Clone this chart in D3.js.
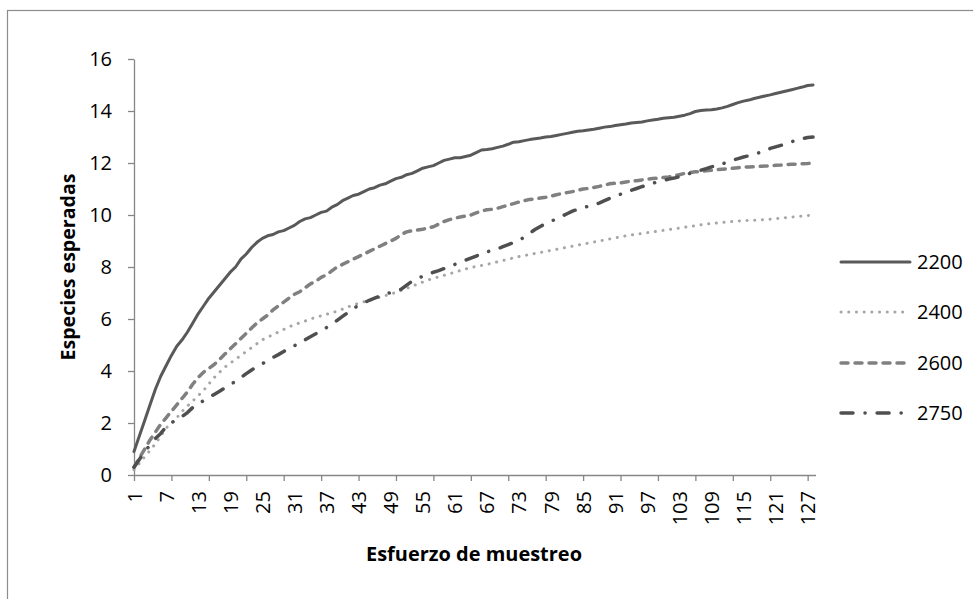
<!DOCTYPE html>
<html>
<head>
<meta charset="utf-8">
<script src="https://cdn.jsdelivr.net/npm/d3@7"></script>
<style>
  body { margin: 0; background: #fff; }
  text { font-family: "Open Sans", sans-serif; fill: #000; }
</style>
</head>
<body>
<div id="chart"></div>
<script>
// categories (sampling effort) and axis ticks
var categories = d3.range(1, 129);
var xTickLabels = [1, 7, 13, 19, 25, 31, 37, 43, 49, 55, 61, 67, 73, 79, 85, 91, 97, 103, 109, 115, 121, 127];
var xTickMarks = [1, 8, 15, 22, 29, 36, 43, 50, 57, 64, 71, 78, 85, 92, 99, 106, 113, 120, 127];
var yTicks = [0, 2, 4, 6, 8, 10, 12, 14, 16];
var seriesNames = ["2200", "2400", "2600", "2750"];

var s2200 = [0.9,1.5,2.1,2.7,3.3,3.8,4.2,4.6,4.95,5.2,
  5.5,5.85,6.2,6.5,6.8,7.05,7.3,7.55,7.8,8.0,
  8.3,8.5,8.75,8.95,9.1,9.2,9.25,9.35,9.4,9.5,
  9.6,9.75,9.85,9.9,10.0,10.1,10.15,10.3,10.4,10.55,
  10.65,10.75,10.8,10.9,11.0,11.05,11.15,11.2,11.3,11.4,
  11.45,11.55,11.6,11.7,11.8,11.85,11.9,12.0,12.1,12.15,
  12.2,12.2,12.25,12.3,12.4,12.5,12.52,12.55,12.6,12.65,
  12.72,12.8,12.82,12.86,12.9,12.93,12.96,13.0,13.02,13.06,
  13.1,13.14,13.18,13.22,13.24,13.27,13.3,13.34,13.38,13.4,
  13.44,13.47,13.5,13.54,13.56,13.58,13.62,13.65,13.68,13.72,
  13.74,13.76,13.8,13.84,13.9,13.98,14.02,14.04,14.05,14.08,
  14.12,14.18,14.25,14.32,14.38,14.42,14.48,14.53,14.58,14.62,
  14.67,14.72,14.77,14.82,14.87,14.92,14.98,15.0];

var s2400 = [0.2,0.45,0.7,0.95,1.2,1.5,1.8,2.0,2.2,2.45,
  2.65,2.85,3.05,3.25,3.5,3.75,3.95,4.15,4.3,4.45,
  4.6,4.75,4.9,5.05,5.2,5.3,5.4,5.5,5.6,5.7,
  5.78,5.85,5.92,6.0,6.06,6.12,6.18,6.24,6.3,6.38,
  6.46,6.54,6.6,6.66,6.72,6.78,6.84,6.9,6.96,7.02,
  7.1,7.18,7.26,7.34,7.42,7.5,7.56,7.62,7.68,7.74,
  7.8,7.86,7.92,7.98,8.02,8.06,8.1,8.15,8.2,8.25,
  8.3,8.35,8.4,8.44,8.48,8.52,8.56,8.6,8.64,8.68,
  8.72,8.76,8.8,8.84,8.88,8.92,8.96,9.0,9.04,9.08,
  9.12,9.16,9.2,9.23,9.26,9.29,9.32,9.35,9.38,9.41,
  9.44,9.47,9.5,9.53,9.56,9.59,9.62,9.65,9.67,9.69,
  9.71,9.73,9.75,9.77,9.78,9.79,9.8,9.81,9.82,9.84,
  9.86,9.88,9.9,9.92,9.94,9.96,9.98,10.0];

var s2600 = [0.3,0.65,1.0,1.35,1.65,1.95,2.2,2.45,2.7,2.95,
  3.2,3.5,3.75,3.95,4.1,4.25,4.45,4.65,4.85,5.05,
  5.25,5.45,5.65,5.85,6.0,6.15,6.35,6.5,6.65,6.8,
  6.95,7.05,7.2,7.35,7.45,7.6,7.7,7.85,8.0,8.1,
  8.2,8.3,8.4,8.5,8.6,8.7,8.8,8.9,9.0,9.1,
  9.25,9.35,9.4,9.42,9.45,9.5,9.55,9.65,9.75,9.82,
  9.88,9.92,9.96,10.0,10.08,10.15,10.2,10.22,10.26,10.32,
  10.38,10.44,10.5,10.55,10.6,10.62,10.65,10.68,10.72,10.78,
  10.82,10.86,10.9,10.95,11.0,11.02,11.06,11.1,11.15,11.2,
  11.22,11.24,11.27,11.3,11.32,11.35,11.38,11.4,11.42,11.44,
  11.46,11.5,11.55,11.6,11.63,11.66,11.68,11.7,11.72,11.74,
  11.76,11.78,11.8,11.82,11.84,11.85,11.86,11.87,11.88,11.9,
  11.91,11.92,11.94,11.95,11.96,11.97,11.98,12.0];

var s2750 = [0.3,0.6,0.9,1.15,1.4,1.6,1.85,2.0,2.15,2.25,
  2.4,2.6,2.75,2.85,2.98,3.1,3.22,3.35,3.48,3.6,
  3.75,3.9,4.04,4.16,4.28,4.4,4.52,4.63,4.75,4.86,
  4.97,5.08,5.2,5.32,5.43,5.55,5.67,5.8,5.95,6.1,
  6.25,6.4,6.52,6.62,6.72,6.8,6.88,6.95,7.02,7.08,
  7.15,7.3,7.45,7.56,7.64,7.72,7.8,7.86,7.94,8.02,
  8.1,8.18,8.26,8.34,8.42,8.5,8.58,8.64,8.7,8.78,
  8.86,8.94,9.02,9.15,9.3,9.44,9.56,9.67,9.76,9.85,
  9.95,10.05,10.15,10.22,10.28,10.34,10.38,10.46,10.55,10.64,
  10.72,10.8,10.88,10.95,11.02,11.09,11.16,11.22,11.28,11.33,
  11.38,11.42,11.47,11.54,11.6,11.66,11.72,11.78,11.85,11.9,
  11.96,12.04,12.11,12.17,12.23,12.28,12.34,12.4,12.48,12.56,
  12.62,12.68,12.74,12.82,12.88,12.93,12.98,13.0];

var seriesValues = [s2200, s2400, s2600, s2750];

// line look for each series (Excel-like grey styles)
var seriesStyle = [
  { color: "#595959", width: 3, dash: null, cap: "round" },
  { color: "#a6a6a6", width: 3, dash: "0.1,7.6", cap: "round" },
  { color: "#808080", width: 3.5, dash: "7,7", cap: "round" },
  { color: "#4f4f4f", width: 3.5, dash: "12,12,0.1,12", cap: "round" }
];

var W = 973, H = 599;

var svg = d3.select("#chart").append("svg")
    .attr("width", W)
    .attr("height", H);

// outer chart border (right and bottom edges run off the picture)
svg.append("rect")
    .attr("x", 7.5).attr("y", 10.5)
    .attr("width", 1200).attr("height", 900)
    .attr("fill", "none")
    .attr("stroke", "#8c8c8c")
    .attr("stroke-width", 1.2);

var x = d3.scalePoint().domain(categories).range([134, 813]);
var y = d3.scaleLinear().domain([0, 16]).range([475, 59]);

// y axis
var yAxis = svg.append("g")
    .attr("transform", "translate(134,0)")
    .call(d3.axisLeft(y).tickValues(yTicks).tickSize(6).tickPadding(16).tickSizeOuter(0));
yAxis.select(".domain").attr("stroke", "#868686").attr("stroke-width", 1.3);
yAxis.selectAll(".tick line").attr("stroke", "#868686").attr("stroke-width", 1.3);
yAxis.selectAll("text").style("font-size", "20px").attr("fill", "#000");

// x axis: tick marks every 7, labels every 6
var xMarks = svg.append("g")
    .attr("transform", "translate(0,475)")
    .call(d3.axisBottom(x).tickValues(xTickMarks).tickSize(6).tickFormat("").tickSizeOuter(0));
xMarks.select(".domain").attr("stroke", "#868686").attr("stroke-width", 1.3)
    .attr("d", "M134,0.5H816");
xMarks.selectAll(".tick line").attr("stroke", "#868686").attr("stroke-width", 1.3);

var xLabels = svg.append("g")
    .attr("transform", "translate(0,475)")
    .call(d3.axisBottom(x).tickValues(xTickLabels).tickSize(0).tickPadding(0));
xLabels.select(".domain").remove();
xLabels.selectAll("text")
    .style("font-size", "20px")
    .attr("fill", "#000")
    .attr("text-anchor", "end")
    .attr("transform", "translate(0,16) rotate(-90)")
    .attr("x", 0).attr("y", 0)
    .attr("dy", "0.35em");

// axis titles
svg.append("text")
    .attr("x", 474).attr("y", 561)
    .attr("text-anchor", "middle")
    .style("font-size", "20px")
    .style("font-weight", "bold")
    .attr("textLength", 216)
    .attr("lengthAdjust", "spacingAndGlyphs")
    .text("Esfuerzo de muestreo");

svg.append("text")
    .attr("transform", "translate(75,267) rotate(-90)")
    .attr("text-anchor", "middle")
    .style("font-size", "19px")
    .style("font-weight", "bold")
    .attr("textLength", 187)
    .attr("lengthAdjust", "spacingAndGlyphs")
    .text("Especies esperadas");

// series lines
var line = d3.line()
    .x(function(d, i) { return x(categories[i]); })
    .y(function(d) { return y(d); });

seriesValues.forEach(function(vals, k) {
  var st = seriesStyle[k];
  svg.append("path")
      .datum(vals)
      .attr("fill", "none")
      .attr("stroke", st.color)
      .attr("stroke-width", st.width)
      .attr("stroke-linecap", st.cap)
      .attr("stroke-linejoin", "round")
      .attr("stroke-dasharray", st.dash)
      .attr("d", line);
});

// legend
var legendY = [262, 312, 363, 413];
seriesNames.forEach(function(name, k) {
  var st = seriesStyle[k];
  svg.append("line")
      .attr("x1", 841).attr("x2", 910)
      .attr("y1", legendY[k]).attr("y2", legendY[k])
      .attr("stroke", st.color)
      .attr("stroke-width", st.width)
      .attr("stroke-linecap", st.cap)
      .attr("stroke-dasharray", st.dash);
  svg.append("text")
      .attr("x", 917).attr("y", legendY[k])
      .attr("dy", "0.35em")
      .style("font-size", "20px")
      .text(name);
});
</script>
</body>
</html>
